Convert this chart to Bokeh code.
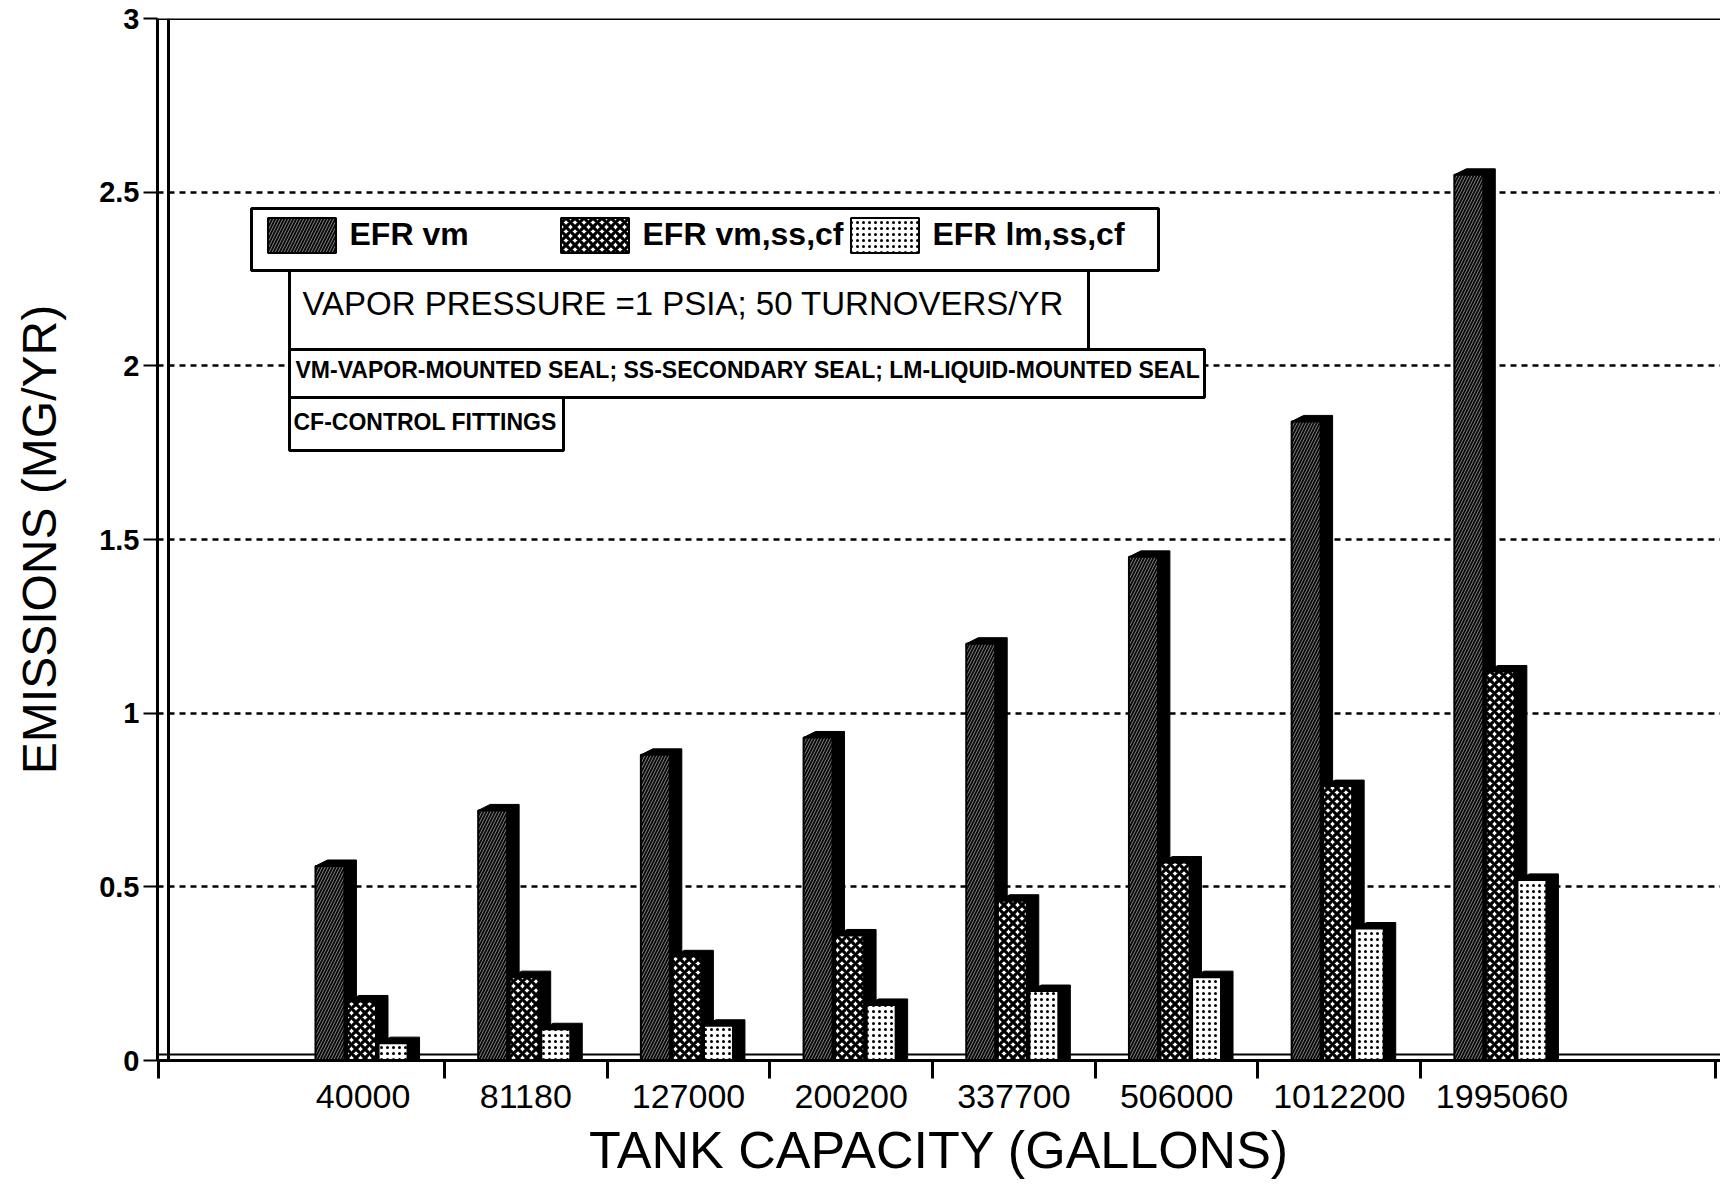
from bokeh.plotting import figure
from bokeh.models import Range1d, FixedTicker, Span, BoxAnnotation, Label, Legend, LegendItem
from bokeh.embed import file_html
from bokeh.resources import INLINE

# ---------------- data ----------------
capacities = ["40000", "81180", "127000", "200200", "337700", "506000", "1012200", "1995060"]
efr_vm = [0.56, 0.72, 0.88, 0.93, 1.20, 1.45, 1.84, 2.55]
efr_vm_ss_cf = [0.17, 0.24, 0.30, 0.36, 0.46, 0.57, 0.79, 1.12]
efr_lm_ss_cf = [0.05, 0.09, 0.10, 0.16, 0.20, 0.24, 0.38, 0.52]
series_names = ["EFR vm", "EFR vm,ss,cf", "EFR lm,ss,cf"]
y_ticks = [0, 0.5, 1, 1.5, 2, 2.5, 3]
y_tick_labels = ["0", "0.5", "1", "1.5", "2", "2.5", "3"]
note_vapor = "VAPOR PRESSURE =1 PSIA; 50 TURNOVERS/YR"
note_seals = "VM-VAPOR-MOUNTED SEAL; SS-SECONDARY SEAL; LM-LIQUID-MOUNTED SEAL"
note_cf = "CF-CONTROL FITTINGS"

FONT = "Liberation Sans"

# ---------------- layout ----------------
W, H = 1720, 1189
FL, FT, FB = 157, 18, 129
frame_w = W - FL
frame_h = H - FT - FB
XMIN, XMAX = -0.764, 8.843
YMIN, YMAX = 0.0, 3.0
dpx = (XMAX - XMIN) / frame_w   # data units per pixel (x)
dpy = (YMAX - YMIN) / frame_h   # data units per pixel (y)

def gx(px):  # canvas pixel x -> data x
    return XMIN + (px - FL) * dpx

def gy(py):  # canvas pixel y -> data y
    return YMAX - (py - FT) * dpy

p = figure(width=W, height=H, x_range=Range1d(XMIN, XMAX), y_range=Range1d(YMIN, YMAX),
           output_backend="svg", toolbar_location=None,
           min_border_left=FL, min_border_right=0, min_border_top=FT, min_border_bottom=FB,
           outline_line_color=None, background_fill_color="white", border_fill_color="white")

# grid
p.xgrid.visible = False
p.ygrid.ticker = FixedTicker(ticks=[0.5, 1, 1.5, 2, 2.5])
p.ygrid.grid_line_color = "black"
p.ygrid.grid_line_width = 2.5
p.ygrid.grid_line_dash = "6 5"

# y axis
p.yaxis.ticker = FixedTicker(ticks=y_ticks)
p.yaxis.major_label_overrides = {t: l for t, l in zip(y_ticks, y_tick_labels)}
p.yaxis.axis_line_width = 3
p.yaxis.axis_line_color = "black"
p.yaxis.major_tick_out = 14
p.yaxis.major_tick_in = 0
p.yaxis.major_tick_line_width = 2
p.yaxis.minor_tick_line_color = None
p.yaxis.major_label_standoff = 4
p.yaxis.major_label_text_font = FONT
p.yaxis.major_label_text_font_size = "29px"
p.yaxis.major_label_text_font_style = "bold"
p.yaxis.major_label_text_color = "black"
p.yaxis.axis_label = "EMISSIONS (MG/YR)"
p.yaxis.axis_label_text_font = FONT
p.yaxis.axis_label_text_font_size = "48px"
p.yaxis.axis_label_text_font_style = "normal"
p.yaxis.axis_label_text_color = "black"
p.yaxis.axis_label_standoff = 30

# x axis: labels at category centres, tick marks at category boundaries
n = len(capacities)
label_pos = [i + 0.5 for i in range(n)]
bounds = [XMIN + 0.004] + list(range(1, n)) + [XMAX - 0.03]
p.xaxis.ticker = FixedTicker(ticks=label_pos, minor_ticks=bounds)
p.xaxis.major_label_overrides = {t: c for t, c in zip(label_pos, capacities)}
p.xaxis.axis_line_width = 3
p.xaxis.axis_line_color = "black"
p.xaxis.major_tick_line_color = None
p.xaxis.major_tick_out = 0
p.xaxis.major_tick_in = 0
p.xaxis.minor_tick_out = 18
p.xaxis.minor_tick_in = 0
p.xaxis.minor_tick_line_width = 3
p.xaxis.minor_tick_line_color = "black"
p.xaxis.major_label_standoff = 6
p.xaxis.major_label_text_font = FONT
p.xaxis.major_label_text_font_size = "34px"
p.xaxis.major_label_text_font_style = "normal"
p.xaxis.major_label_text_color = "black"
p.xaxis.axis_label = "TANK CAPACITY (GALLONS)"
p.xaxis.axis_label_text_font = FONT
p.xaxis.axis_label_text_font_size = "52px"
p.xaxis.axis_label_text_font_style = "normal"
p.xaxis.axis_label_text_color = "black"
p.xaxis.axis_label_standoff = 10

# double frame lines
p.add_layout(Span(location=XMIN + 11 * dpx, dimension="height", line_color="black", line_width=3))
p.add_layout(Span(location=YMAX, dimension="width", line_color="black", line_width=3))
p.add_layout(Span(location=6 * dpy, dimension="width", line_color="black", line_width=2, level="underlay"))

# ---------------- bars (pseudo 3-D) ----------------
BAR_OFF, BAR_STEP, BAR_W = 0.207, 0.194, 0.178
DX, DY = 12 * dpx, 6 * dpy
styles = [
    dict(fill_color="#0c0c0c", hatch_pattern="right_diagonal_line", hatch_color="#7a7a7a",
         hatch_scale=6, hatch_weight=1.0),
    dict(fill_color="white", hatch_pattern="diagonal_cross", hatch_color="black",
         hatch_scale=9, hatch_weight=3.2),
    dict(fill_color="white", hatch_pattern="dot", hatch_color="black",
         hatch_scale=6, hatch_weight=1.5),
]
face_renderers = []
for s, vals in enumerate([efr_vm, efr_vm_ss_cf, efr_lm_ss_cf]):
    lefts = [i + BAR_OFF + s * BAR_STEP for i in range(n)]
    rights = [l + BAR_W for l in lefts]
    xs = [[l, l + DX, r + DX, r + DX, r] for l, r in zip(lefts, rights)]
    ys = [[v, v + DY, v + DY, 0, 0] for v in vals]
    p.patches(xs, ys, fill_color="black", line_color="black", line_width=1)
    r = p.quad(left=lefts, right=rights, bottom=0, top=vals, line_color="black", line_width=2,
               **styles[s])
    face_renderers.append(r)

# ---------------- boxes, notes ----------------
def box(x0, x1, y0, y1):
    p.add_layout(BoxAnnotation(left=gx(x0), right=gx(x1), top=gy(y0), bottom=gy(y1),
                               fill_color="white", fill_alpha=1.0,
                               line_color="black", line_alpha=1.0, line_width=3))

box(251, 1158, 208, 270)
box(289, 1088, 270, 349)
box(289, 1204, 349, 397)
box(289, 563, 397, 450)

p.add_layout(Label(x=gx(302), y=gy(303), text=note_vapor, text_baseline="middle", text_align="left",
                   text_font=FONT, text_font_size="33px", text_color="black"))
p.add_layout(Label(x=gx(295), y=gy(369), text=note_seals, text_baseline="middle", text_align="left",
                   text_font=FONT, text_font_size="23px", text_font_style="bold", text_color="black"))
p.add_layout(Label(x=gx(293), y=gy(421), text=note_cf, text_baseline="middle", text_align="left",
                   text_font=FONT, text_font_size="23px", text_font_style="bold", text_color="black"))

# legend (three single-item legends inside the first box)
frame_bottom = FT + frame_h
leg_y = frame_bottom - 256.5
for r, name, sx in zip(face_renderers, series_names, [267, 560, 850]):
    leg = Legend(items=[LegendItem(label=name, renderers=[r])],
                 location=(sx - FL - 8.5, leg_y),
                 orientation="horizontal", glyph_width=85, glyph_height=44, label_standoff=6,
                 padding=0, margin=0, spacing=0, border_line_color=None, background_fill_alpha=0,
                 label_text_font=FONT, label_text_font_size="32px", label_text_font_style="bold",
                 label_text_color="black")
    p.add_layout(leg)

open("out.html", "w").write(file_html(p, INLINE))
